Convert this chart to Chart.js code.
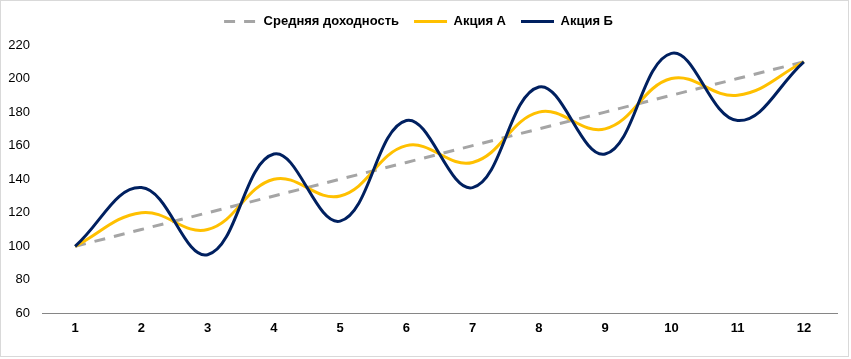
<!DOCTYPE html>
<html><head><meta charset="utf-8">
<script src="https://cdn.jsdelivr.net/npm/chart.js@4"></script>
<style>html,body{margin:0;padding:0;background:#fff}#w{width:851px;height:359px;position:relative}</style>
</head><body><div id="w"><canvas id="c"></canvas></div>
<script>
const categories = ['1','2','3','4','5','6','7','8','9','10','11','12'];
const avgReturn = [100,110,120,130,140,150,160,170,180,190,200,210];
const stockA = [100,120,110,140,130,160,150,180,170,200,190,210];
const stockB = [100,135,95,155,115,175,135,195,155,215,175,210];
const seriesNames = ['Средняя доходность','Акция А','Акция Б'];
const yTicks = {min:60, max:220, step:20};

const border = {id:'border', afterDraw(c){const x=c.ctx;x.save();x.strokeStyle='#d9d9d9';x.lineWidth=1;x.strokeRect(0.5,0.5,848,356);x.restore();}};
const legendGap = {id:'legendGap', beforeUpdate(c){const lg=c.legend; if(lg && !lg._patched){const f=lg.fit.bind(lg); lg.fit=function(){f(); this.height+=7;}; lg._patched=true;}}};

new Chart(document.getElementById('c'), {
  type:'line',
  data:{labels:categories, datasets:[
    {label:seriesNames[0], data:avgReturn, borderColor:'#a5a5a5', backgroundColor:'#a5a5a5', borderWidth:3, borderDash:[11,9], pointRadius:0, tension:0, order:3},
    {label:seriesNames[1], data:stockA, borderColor:'#ffc000', backgroundColor:'#ffc000', borderWidth:3, pointRadius:0, tension:0.4, order:2},
    {label:seriesNames[2], data:stockB, borderColor:'#002060', backgroundColor:'#002060', borderWidth:3, pointRadius:0, tension:0.4, order:1}
  ]},
  options:{
    responsive:true, maintainAspectRatio:false, animation:false,
    layout:{padding:{left:0,right:14,top:0,bottom:16}},
    plugins:{
      tooltip:{enabled:false},
      legend:{position:'top', labels:{
        sort:(a,b)=>a.datasetIndex-b.datasetIndex,
        generateLabels:(chart)=>Chart.defaults.plugins.legend.labels.generateLabels(chart).map(it=>{const ds=chart.data.datasets[it.datasetIndex]; it.lineDash=ds.borderDash||[]; it.lineWidth=3; it.lineCap='butt'; return it;}),
        usePointStyle:true, pointStyle:'line', pointStyleWidth:33, boxHeight:3, boxWidth:33, padding:15, color:'#000', font:{family:"'Liberation Sans',Arial,sans-serif", size:13, weight:'bold'}}}
    },
    scales:{
      x:{offset:true, grid:{display:false, drawTicks:false}, border:{display:true, color:'#868686', width:1}, ticks:{padding:7, color:'#000', font:{family:"'Liberation Sans',Arial,sans-serif", size:13, weight:'bold'}}},
      y:{min:yTicks.min, max:yTicks.max, grid:{display:false, drawTicks:false}, border:{display:false}, afterFit:(s)=>{s.width=42;},
         ticks:{stepSize:yTicks.step, padding:12, color:'#000', font:{family:"'Liberation Sans',Arial,sans-serif", size:13}}}
    }
  },
  plugins:[border, legendGap]
});
</script></body></html>
